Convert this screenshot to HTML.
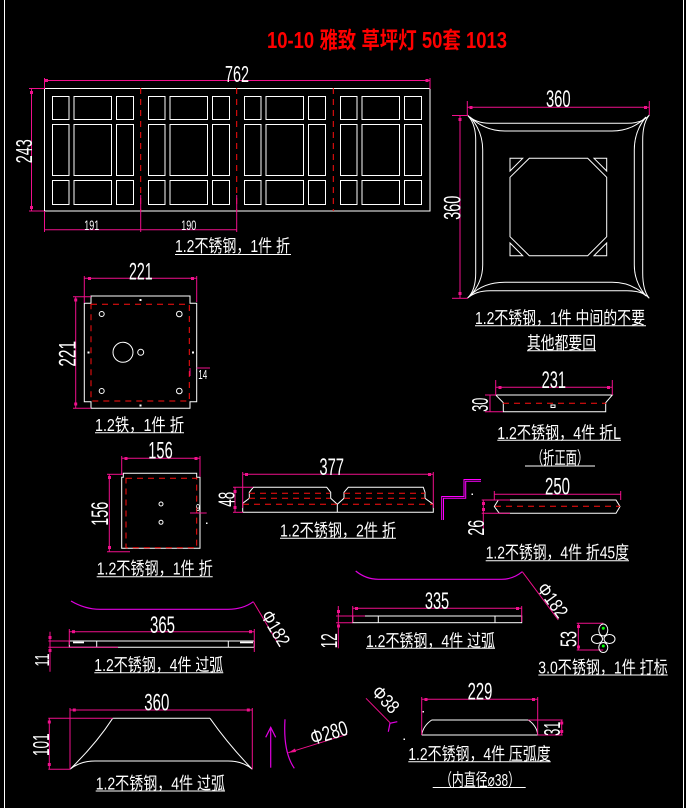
<!DOCTYPE html>
<html><head><meta charset="utf-8"><style>
html,body{margin:0;padding:0;background:#000;width:686px;height:808px;overflow:hidden}
svg{display:block}
.w{stroke:#fff;fill:none;stroke-width:1}
.m{stroke:#f0108c;fill:none;stroke-width:1}
.p{stroke:#e000e0;fill:none;stroke-width:1.2}
.r{stroke:#ff1010;fill:none;stroke-width:1;stroke-dasharray:6 5}
.t{fill:#f0108c}
.d{font-family:"Liberation Sans",sans-serif;fill:#fff;font-size:23px}
.c{font-family:"Liberation Sans","Noto Sans CJK SC",sans-serif;fill:#fff;font-size:17.5px}
</style></head><body>
<svg width="686" height="808" viewBox="0 0 686 808" xmlns="http://www.w3.org/2000/svg">
<rect width="686" height="808" fill="#000"/>
<line class="w" x1="4.5" y1="0" x2="4.5" y2="808"/>
<line class="w" x1="683.5" y1="0" x2="683.5" y2="808"/>

<!-- Title -->
<text x="267" y="48" font-family="Liberation Sans,'Noto Sans CJK SC',sans-serif" font-size="23" font-weight="bold" fill="#ff0000" textLength="240" lengthAdjust="spacingAndGlyphs">10-10 雅致 草坪灯 50套 1013</text>

<!-- ===== Panel 1 ===== -->
<defs>
<g id="sec" class="w">
<rect x="52.5" y="96.5" width="16.5" height="23"/>
<rect x="74" y="96.5" width="37.5" height="23"/>
<rect x="116.5" y="96.5" width="17" height="23"/>
<rect x="52.5" y="124.5" width="16.5" height="51"/>
<rect x="74" y="124.5" width="37.5" height="51"/>
<rect x="116.5" y="124.5" width="17" height="51"/>
<rect x="52.5" y="180.5" width="16.5" height="24"/>
<rect x="74" y="180.5" width="37.5" height="24"/>
<rect x="116.5" y="180.5" width="17" height="24"/>
</g>
</defs>
<rect class="w" x="44.5" y="88.5" width="385.5" height="122.5"/>
<use href="#sec"/>
<use href="#sec" transform="translate(96,0)"/>
<use href="#sec" transform="translate(192,0)"/>
<use href="#sec" transform="translate(288,0)"/>
<line class="r" x1="140.7" y1="88" x2="140.7" y2="211"/>
<line class="r" x1="236.7" y1="88" x2="236.7" y2="211"/>
<line class="r" x1="333.3" y1="88" x2="333.3" y2="211"/>
<!-- dims -->
<line class="m" x1="44" y1="80.5" x2="430" y2="80.5"/>
<line class="m" x1="44.5" y1="78" x2="44.5" y2="89"/>
<line class="m" x1="430" y1="78" x2="430" y2="89"/>
<rect class="t" x="45" y="79" width="3" height="3"/><rect class="t" x="425.5" y="79" width="3" height="3"/>
<text class="d" x="237" y="82" text-anchor="middle" textLength="24" lengthAdjust="spacingAndGlyphs">762</text>
<line class="m" x1="31.5" y1="88.3" x2="31.5" y2="211"/>
<line class="m" x1="29" y1="88.5" x2="44" y2="88.5"/>
<line class="m" x1="29" y1="211" x2="44" y2="211"/>
<rect class="t" x="30" y="91" width="3" height="3"/><rect class="t" x="30" y="206" width="3" height="3"/>
<text class="d" transform="translate(32,151.3) rotate(-90)" x="0" y="0" text-anchor="middle" textLength="24" lengthAdjust="spacingAndGlyphs">243</text>
<line class="m" x1="44" y1="229.7" x2="236.7" y2="229.7"/>
<line class="m" x1="44.5" y1="211" x2="44.5" y2="232"/>
<line class="m" x1="140.7" y1="195" x2="140.7" y2="232"/>
<line class="m" x1="236.7" y1="195" x2="236.7" y2="232"/>
<text class="d" style="font-size:14px" x="91.7" y="230" text-anchor="middle" textLength="15" lengthAdjust="spacingAndGlyphs">191</text>
<text class="d" style="font-size:14px" x="188.8" y="230" text-anchor="middle" textLength="15" lengthAdjust="spacingAndGlyphs">190</text>
<text class="c" x="175" y="252" textLength="115" lengthAdjust="spacingAndGlyphs">1.2不锈钢，1件 折</text>
<line class="w" x1="175" y1="254.5" x2="291" y2="254.5"/>

<!-- ===== Panel 2 ===== -->
<path class="w" d="M467.3,115 Q475.7,123.3 490,123.3 L627,123.3 Q642.7,123.3 649.3,115 Q642.7,123 642.7,140 L642.7,273 Q642.7,290.7 649.3,298.3 Q642.7,290.7 627,290.7 L490,290.7 Q475.7,290.7 467.3,298.3 Q475.7,290.7 475.7,273 L475.7,140 Q475.7,123.3 467.3,115 Z"/>
<path class="w" d="M470,117 Q485,131 505,131 L612,131 Q632,131 646,117 Q634.3,131 634.3,150 L634.3,265 Q634.3,282.3 646,296 Q632,282.3 612,282.3 L505,282.3 Q482.7,282.3 470,296 Q482.7,282.3 482.7,265 L482.7,150 Q482.7,131 470,117 Z"/>
<path class="w" d="M529.3,158.3 L587.7,158.3 L606.7,177.3 L606.7,236.7 L587.7,255.7 L529.3,255.7 L510,236.7 L510,177.3 Z"/>
<path class="w" d="M510,158.3 L522.7,158.3 L510,171 Z M606.7,158.3 L594,158.3 L606.7,171 Z M510,255.7 L522.7,255.7 L510,243 Z M606.7,255.7 L594,255.7 L606.7,243 Z"/>
<line class="m" x1="467.3" y1="107.3" x2="649.3" y2="107.3"/>
<line class="m" x1="467.3" y1="101" x2="467.3" y2="115"/>
<line class="m" x1="649.3" y1="101" x2="649.3" y2="115"/>
<rect class="t" x="469.5" y="106" width="3" height="3"/><rect class="t" x="644" y="106" width="3" height="3"/>
<text class="d" style="font-size:24px" x="558.3" y="107" text-anchor="middle" textLength="24.7" lengthAdjust="spacingAndGlyphs">360</text>
<line class="m" x1="460" y1="115.7" x2="460" y2="298.3"/>
<line class="m" x1="452" y1="115.5" x2="468" y2="115.5"/>
<line class="m" x1="452" y1="298.3" x2="468" y2="298.3"/>
<rect class="t" x="458.5" y="118" width="3" height="3"/><rect class="t" x="458.5" y="292" width="3" height="3"/>
<text class="d" style="font-size:24px" transform="translate(460.5,207.8) rotate(-90)" text-anchor="middle" textLength="24" lengthAdjust="spacingAndGlyphs">360</text>
<text class="c" x="475" y="324" textLength="170" lengthAdjust="spacingAndGlyphs">1.2不锈钢，1件 中间的不要</text>
<line class="w" x1="475" y1="325.7" x2="646" y2="325.7"/>
<text class="c" x="527" y="349" textLength="69" lengthAdjust="spacingAndGlyphs">其他都要回</text>
<line class="w" x1="527" y1="350.7" x2="596" y2="350.7"/>

<!-- ===== Panel 3 (221 plate) ===== -->
<path class="w" d="M91,296 L190,296 L190,303.3 L196.7,303.3 L196.7,401.7 L190,401.7 L190,408.3 L91,408.3 L91,401.7 L84.3,401.7 L84.3,303.3 L91,303.3 Z"/>
<rect class="r" x="91" y="304.3" width="98.3" height="96.7"/>
<circle class="w" cx="101.7" cy="314" r="2.5"/><circle class="w" cx="179.3" cy="314" r="2.8"/>
<circle class="w" cx="101.7" cy="391" r="2.5"/><circle class="w" cx="179.3" cy="391" r="2.8"/>
<circle class="w" cx="123" cy="352.3" r="10"/>
<circle class="w" cx="140.7" cy="352.3" r="3"/>
<rect x="139.5" y="299" width="2" height="2" fill="#fff"/>
<rect x="139.5" y="404.5" width="2" height="2" fill="#fff"/>
<rect x="87.5" y="351.5" width="2" height="2" fill="#fff"/>
<rect x="192" y="351.5" width="2" height="2" fill="#fff"/>
<line class="m" x1="84.3" y1="278.3" x2="196.7" y2="278.3"/>
<line class="m" x1="84.3" y1="276" x2="84.3" y2="303"/>
<line class="m" x1="196.7" y1="276" x2="196.7" y2="302"/>
<rect class="t" x="88" y="277" width="3" height="3"/><rect class="t" x="191" y="277" width="3" height="3"/>
<text class="d" style="font-size:24px" x="140.8" y="279.5" text-anchor="middle" textLength="23.7" lengthAdjust="spacingAndGlyphs">221</text>
<line class="m" x1="75.7" y1="296.7" x2="75.7" y2="408.3"/>
<line class="m" x1="73" y1="296.7" x2="91" y2="296.7"/>
<line class="m" x1="73" y1="408.3" x2="91" y2="408.3"/>
<rect class="t" x="74.2" y="298.5" width="3" height="3"/><rect class="t" x="74.2" y="402.5" width="3" height="3"/>
<text class="d" style="font-size:24px" transform="translate(75.5,353.8) rotate(-90)" text-anchor="middle" textLength="25.7" lengthAdjust="spacingAndGlyphs">221</text>
<line class="m" x1="196.7" y1="368" x2="210" y2="368"/>
<line class="m" x1="190" y1="368" x2="190" y2="376"/>
<text class="d" style="font-size:13px" x="198.3" y="379" textLength="9" lengthAdjust="spacingAndGlyphs">14</text>
<text class="c" x="95" y="431" textLength="89" lengthAdjust="spacingAndGlyphs">1.2铁，1件 折</text>
<line class="w" x1="95" y1="432.7" x2="184" y2="432.7"/>

<!-- ===== Panel 4 (231) ===== -->
<path class="w" d="M495.7,395 L612.3,395 L605.7,402.7 L605.7,411.7 L503.3,411.7 L503.3,402.7 Z"/>
<line class="r" x1="503" y1="403.3" x2="606" y2="403.3"/>
<rect class="w" x="551" y="405" width="4" height="2.5"/>
<line class="m" x1="495.7" y1="387.3" x2="612.3" y2="387.3"/>
<line class="m" x1="495.7" y1="380" x2="495.7" y2="395"/>
<line class="m" x1="612.3" y1="380" x2="612.3" y2="395"/>
<rect class="t" x="498.5" y="386" width="3" height="3"/><rect class="t" x="607" y="386" width="3" height="3"/>
<text class="d" style="font-size:24px" x="553.8" y="388" text-anchor="middle" textLength="24.3" lengthAdjust="spacingAndGlyphs">231</text>
<line class="m" x1="490" y1="395" x2="490" y2="411.7"/>
<line class="m" x1="485" y1="395" x2="496" y2="395"/>
<line class="m" x1="485" y1="411.7" x2="503" y2="411.7"/>
<text class="d" transform="translate(488,404.7) rotate(-90)" text-anchor="middle" textLength="14" lengthAdjust="spacingAndGlyphs">30</text>
<text class="c" x="497.3" y="439" textLength="123.7" lengthAdjust="spacingAndGlyphs">1.2不锈钢，4件 折L</text>
<line class="w" x1="497.3" y1="440.3" x2="621" y2="440.3"/>
<text class="c" x="531.7" y="464" textLength="56.6" lengthAdjust="spacingAndGlyphs">（折正面）</text>
<line class="w" x1="525" y1="466" x2="595" y2="466"/>

<!-- ===== Panel 5 (156) ===== -->
<path class="w" d="M121.7,477.3 L123.3,477.3 L123.3,473.3 L196.7,473.3 L196.7,477.3 L200,477.3 L200,548.3 L121.7,548.3 Z"/>
<rect class="r" x="126" y="478.3" width="70.7" height="69.4"/>
<circle class="w" cx="161" cy="504" r="2"/><circle class="w" cx="161" cy="522.3" r="2"/>
<line class="m" x1="121.7" y1="458.3" x2="200" y2="458.3"/>
<line class="m" x1="121.7" y1="456" x2="121.7" y2="475"/>
<line class="m" x1="200" y1="456" x2="200" y2="476.7"/>
<rect class="t" x="124.5" y="457" width="3" height="3"/><rect class="t" x="194.5" y="457" width="3" height="3"/>
<text class="d" style="font-size:24px" x="160.5" y="458.5" text-anchor="middle" textLength="24.4" lengthAdjust="spacingAndGlyphs">156</text>
<line class="m" x1="109.3" y1="474.3" x2="109.3" y2="551.7"/>
<line class="m" x1="107" y1="474.3" x2="123" y2="474.3"/>
<line class="m" x1="107" y1="551.7" x2="130" y2="551.7"/>
<rect class="t" x="108" y="476" width="3" height="3"/><rect class="t" x="108" y="546" width="3" height="3"/>
<text class="d" style="font-size:24px" transform="translate(108,513.7) rotate(-90)" text-anchor="middle" textLength="24" lengthAdjust="spacingAndGlyphs">156</text>
<line class="m" x1="190" y1="513" x2="206.7" y2="513"/>
<text class="d" style="font-size:10px" x="196" y="511" textLength="4" lengthAdjust="spacingAndGlyphs">9</text>
<rect x="206" y="522.5" width="1.5" height="1.5" fill="#fff"/>
<text class="c" x="96.7" y="574.5" textLength="116" lengthAdjust="spacingAndGlyphs">1.2不锈钢，1件 折</text>
<line class="w" x1="96.7" y1="576.7" x2="212.7" y2="576.7"/>

<!-- ===== Panel 6 (377) ===== -->
<path class="w" d="M242.7,512.3 L242.7,503.3 L249.3,498.3 L249.3,492.3 L253.3,487.3 L326.7,487.3 L330.7,492.3 L330.7,498.3 L337.3,504.3 L344,498.3 L344,492.3 L348.3,487.3 L423.3,487.3 L425,492.3 L425,498.3 L433.3,504.3 L433.3,512.3 Z M337.3,504.3 L337.3,512.3"/>
<line class="r" x1="249" y1="493.3" x2="330" y2="493.3"/>
<line class="r" x1="344" y1="493.3" x2="425" y2="493.3"/>
<line class="r" x1="249" y1="498.3" x2="330" y2="498.3"/>
<line class="r" x1="344" y1="498.3" x2="425" y2="498.3"/>
<line class="r" x1="243" y1="504.3" x2="433" y2="504.3"/>
<line class="m" x1="242.7" y1="474.3" x2="433.3" y2="474.3"/>
<line class="m" x1="242.7" y1="472" x2="242.7" y2="508"/>
<line class="m" x1="433.3" y1="472" x2="433.3" y2="508"/>
<rect class="t" x="245" y="473" width="3" height="3"/><rect class="t" x="428" y="473" width="3" height="3"/>
<text class="d" style="font-size:24px" x="331.7" y="475" text-anchor="middle" textLength="24.7" lengthAdjust="spacingAndGlyphs">377</text>
<line class="m" x1="235" y1="487.3" x2="235" y2="512.3"/>
<line class="m" x1="233" y1="487.3" x2="253" y2="487.3"/>
<line class="m" x1="233" y1="512.3" x2="243" y2="512.3"/>
<rect class="t" x="233.5" y="490" width="3" height="3"/><rect class="t" x="233.5" y="506" width="3" height="3"/>
<text class="d" transform="translate(234.5,499.2) rotate(-90)" text-anchor="middle" textLength="15" lengthAdjust="spacingAndGlyphs">48</text>
<text class="c" x="280" y="536.5" textLength="116" lengthAdjust="spacingAndGlyphs">1.2不锈钢，2件 折</text>
<line class="w" x1="280" y1="538.3" x2="396" y2="538.3"/>

<!-- ===== Panel 7 (250) ===== -->
<polyline class="m" style="stroke:#ff00ff" points="441.7,520 441.7,496.5 464,496.5 464,479.5 481,479.5"/>
<polyline class="m" style="stroke:#ff00ff" points="443.5,520 443.5,498.3 465.7,498.3 465.7,481.3 481,481.3"/>
<rect x="471.5" y="493.5" width="1.5" height="1.5" fill="#fff"/>
<path class="w" d="M498.3,500 L616,500 L620,506.5 L616,513.3 L499.3,513.3 L494.3,506.5 Z"/>
<line class="r" x1="495" y1="506.3" x2="620" y2="506.3"/>
<line class="m" x1="494.3" y1="494.3" x2="620.7" y2="494.3"/>
<line class="m" x1="494.3" y1="491" x2="494.3" y2="500"/>
<line class="m" x1="620.7" y1="491" x2="620.7" y2="500"/>
<text class="d" style="font-size:24px" x="557.5" y="494.5" text-anchor="middle" textLength="25" lengthAdjust="spacingAndGlyphs">250</text>
<line class="m" x1="481.7" y1="500" x2="510" y2="500"/>
<line class="m" x1="481.7" y1="513.3" x2="510" y2="513.3"/>
<line class="m" x1="483.3" y1="500" x2="483.3" y2="535"/>
<rect class="t" x="482" y="502" width="3" height="3"/><rect class="t" x="482" y="508" width="3" height="3"/>
<text class="d" transform="translate(484,527.8) rotate(-90)" text-anchor="middle" textLength="15.7" lengthAdjust="spacingAndGlyphs">26</text>
<text class="c" x="485.7" y="558.5" textLength="143.3" lengthAdjust="spacingAndGlyphs">1.2不锈钢，4件 折45度</text>
<line class="w" x1="485.7" y1="560.7" x2="629" y2="560.7"/>

<!-- ===== Panel 8 (365) ===== -->
<path class="p" d="M71,601 Q85,609.3 100,609.3 L228,609.3 Q243,609.3 253.3,601.7"/>
<line class="m" x1="253.3" y1="601.7" x2="280" y2="646.7"/>
<text class="d" style="font-size:19px" transform="translate(276,628) rotate(59)" x="0" y="7" text-anchor="middle" textLength="38" lengthAdjust="spacingAndGlyphs">Φ182</text>
<line class="w" x1="69.3" y1="641" x2="254.3" y2="641"/>
<line class="w" x1="69.3" y1="647.3" x2="254.3" y2="647.3"/>
<line class="w" x1="69.3" y1="641" x2="69.3" y2="647.3"/>
<line class="w" x1="254.3" y1="641" x2="254.3" y2="647.3"/>
<line class="w" x1="96.7" y1="641" x2="96.7" y2="647.3"/>
<line class="w" x1="228.3" y1="641" x2="228.3" y2="647.3"/>
<line class="w" style="stroke-width:1.6" x1="73" y1="642.5" x2="84" y2="642.5"/>
<line class="w" style="stroke-width:1.6" x1="240" y1="642.5" x2="253" y2="642.5"/>
<line class="m" x1="69.3" y1="631.7" x2="254.3" y2="631.7"/>
<line class="m" x1="69.3" y1="629" x2="69.3" y2="645"/>
<line class="m" x1="254.3" y1="629" x2="254.3" y2="652"/>
<rect class="t" x="72" y="630.2" width="3" height="3"/><rect class="t" x="249" y="630.2" width="3" height="3"/>
<text class="d" style="font-size:24px" x="162.5" y="633" text-anchor="middle" textLength="25" lengthAdjust="spacingAndGlyphs">365</text>
<line class="m" x1="48.3" y1="641" x2="69.3" y2="641"/>
<line class="m" x1="48.3" y1="647.3" x2="118" y2="647.3"/>
<line class="m" x1="50" y1="631.7" x2="50" y2="671.7"/>
<rect class="t" x="48.5" y="636" width="3" height="3"/><rect class="t" x="48.5" y="649" width="3" height="3"/>
<text class="d" style="font-size:20px" transform="translate(49,660) rotate(-90)" text-anchor="middle" textLength="13" lengthAdjust="spacingAndGlyphs">11</text>
<text class="c" x="94.3" y="671" textLength="129" lengthAdjust="spacingAndGlyphs">1.2不锈钢，4件 过弧</text>
<line class="w" x1="94.3" y1="672.7" x2="223.3" y2="672.7"/>

<!-- ===== Panel 9 (335) ===== -->
<path class="p" d="M355.7,571 Q366,579.3 378.3,579.3 L501.7,579.3 Q513,579.3 522.3,571.7"/>
<line class="m" x1="522.3" y1="571.7" x2="558.3" y2="620"/>
<text class="d" style="font-size:19px" transform="translate(553,600) rotate(54)" x="0" y="7" text-anchor="middle" textLength="38" lengthAdjust="spacingAndGlyphs">Φ182</text>
<rect class="w" x="352.7" y="616" width="169" height="6.7"/>
<line class="w" x1="378.3" y1="616" x2="378.3" y2="622.7"/>
<line class="w" x1="495" y1="616" x2="495" y2="622.7"/>
<line class="m" x1="352.7" y1="608.3" x2="521.7" y2="608.3"/>
<line class="m" x1="352.7" y1="606" x2="352.7" y2="622"/>
<line class="m" x1="521.7" y1="606" x2="521.7" y2="622"/>
<line class="m" x1="352.7" y1="616" x2="365" y2="616"/>
<rect class="t" x="355" y="607" width="3" height="3"/><rect class="t" x="516" y="607" width="3" height="3"/>
<text class="d" style="font-size:24px" x="437" y="609" text-anchor="middle" textLength="24.3" lengthAdjust="spacingAndGlyphs">335</text>
<line class="m" x1="336" y1="616" x2="352.7" y2="616"/>
<line class="m" x1="336" y1="622.7" x2="352.7" y2="622.7"/>
<line class="m" x1="338.3" y1="606" x2="338.3" y2="648.3"/>
<rect class="t" x="337" y="610" width="3" height="3"/><rect class="t" x="337" y="624.5" width="3" height="3"/>
<text class="d" transform="translate(337,640.8) rotate(-90)" text-anchor="middle" textLength="15" lengthAdjust="spacingAndGlyphs">12</text>
<text class="c" x="366" y="647" textLength="129" lengthAdjust="spacingAndGlyphs">1.2不锈钢，4件 过弧</text>
<line class="w" x1="366" y1="648.3" x2="495" y2="648.3"/>

<!-- ===== Panel 10 (flower) ===== -->
<line class="m" x1="576.7" y1="623.3" x2="603.3" y2="623.3"/>
<line class="m" x1="576.7" y1="650" x2="603.3" y2="650"/>
<line class="m" x1="578.3" y1="623.3" x2="578.3" y2="650"/>
<rect class="t" x="577" y="625" width="3" height="3"/><rect class="t" x="577" y="645.5" width="3" height="3"/>
<text class="d" transform="translate(576.5,639) rotate(-90)" text-anchor="middle" textLength="16" lengthAdjust="spacingAndGlyphs">53</text>
<g class="w">
<ellipse cx="603.3" cy="630" rx="4.5" ry="6"/>
<ellipse cx="603.3" cy="647.5" rx="4.5" ry="5"/>
<ellipse cx="597" cy="639" rx="5.5" ry="4.5"/>
<ellipse cx="609.5" cy="639" rx="5.5" ry="4.5"/>
</g>
<circle cx="603.3" cy="628.3" r="1.5" fill="#00ff00"/>
<circle cx="603.3" cy="646" r="1.5" fill="#00ff00"/>
<text class="c" x="538.3" y="673.5" textLength="129.4" lengthAdjust="spacingAndGlyphs">3.0不锈钢，1件 打标</text>
<line class="w" x1="538.3" y1="675" x2="667.7" y2="675"/>

<!-- ===== Panel 11 (360 trapezoid) ===== -->
<path class="w" d="M112.7,718.3 L210,718.3 M112.7,718.3 Q96,744 70,769.3 M210,718.3 Q228,744 252.3,769.3 M70,769.3 Q80,761 95,761 L228,761 Q243,761 252.3,769.3"/>
<line class="m" x1="70" y1="710" x2="252.3" y2="710"/>
<line class="m" x1="70" y1="708" x2="70" y2="769.3"/>
<line class="m" x1="252.3" y1="708" x2="252.3" y2="769.3"/>
<rect class="t" x="72.8" y="708.5" width="3" height="3"/><rect class="t" x="246.8" y="708.5" width="3" height="3"/>
<text class="d" style="font-size:24px" x="156.8" y="710.5" text-anchor="middle" textLength="25" lengthAdjust="spacingAndGlyphs">360</text>
<line class="m" x1="48.3" y1="718.3" x2="112.7" y2="718.3"/>
<line class="m" x1="48.3" y1="769.3" x2="70" y2="769.3"/>
<line class="m" x1="49.3" y1="718.3" x2="49.3" y2="769.3"/>
<rect class="t" x="47.8" y="720.5" width="3" height="3"/><rect class="t" x="47.8" y="763" width="3" height="3"/>
<text class="d" transform="translate(49,744.7) rotate(-90)" text-anchor="middle" textLength="22.7" lengthAdjust="spacingAndGlyphs">101</text>
<text class="c" x="95.7" y="789.5" textLength="129.3" lengthAdjust="spacingAndGlyphs">1.2不锈钢，4件 过弧</text>
<line class="w" x1="95.7" y1="791" x2="225" y2="791"/>

<!-- arrow + Φ280 -->
<line class="p" x1="270.7" y1="767.7" x2="270.7" y2="727.3"/>
<polyline class="p" points="265.7,737.3 270.7,727.3 275.7,737.3"/>
<path class="p" d="M285,719.3 Q283,752 294.3,768.3"/>
<line class="m" x1="288.3" y1="752.7" x2="347.3" y2="734.3"/>
<polygon class="t" points="288.3,752.7 295,748.5 296,752"/>
<text class="d" style="font-size:21px" transform="translate(329,733) rotate(-17)" x="0" y="7" text-anchor="middle" textLength="38" lengthAdjust="spacingAndGlyphs">Φ280</text>

<!-- ===== Panel 12 (229) ===== -->
<line class="m" x1="366" y1="698.3" x2="390" y2="722.7"/>
<polyline class="p" points="397.3,721.7 390,723.3 388.3,731.7"/>
<text class="d" style="font-size:19px" transform="translate(381,704) rotate(46)" x="0" y="0" text-anchor="middle" textLength="30" lengthAdjust="spacingAndGlyphs">Φ38</text>
<path class="w" d="M421.7,735 L537.7,735 M431.7,720 L528.3,720 M431.7,720 Q423,726 421.7,735 M528.3,720 Q537,726 537.7,735"/>
<rect x="422.5" y="711" width="1.5" height="1.5" fill="#fff"/>
<rect x="403.5" y="738.5" width="1.5" height="1.5" fill="#fff"/>
<line class="m" x1="421.7" y1="699.3" x2="537.7" y2="699.3"/>
<line class="m" x1="421.7" y1="697" x2="421.7" y2="735"/>
<line class="m" x1="537.7" y1="697" x2="537.7" y2="735"/>
<rect class="t" x="424.5" y="698" width="3" height="3"/><rect class="t" x="532" y="698" width="3" height="3"/>
<text class="d" style="font-size:24px" x="480" y="699.5" text-anchor="middle" textLength="24.7" lengthAdjust="spacingAndGlyphs">229</text>
<line class="m" x1="528.3" y1="720" x2="562.7" y2="720"/>
<line class="m" x1="537.7" y1="735" x2="562.7" y2="735"/>
<line class="m" x1="561.7" y1="720" x2="561.7" y2="735"/>
<rect class="t" x="560.2" y="721.5" width="3" height="3"/><rect class="t" x="560.2" y="730" width="3" height="3"/>
<text class="d" transform="translate(560,728.7) rotate(-90)" text-anchor="middle" textLength="14" lengthAdjust="spacingAndGlyphs">31</text>
<text class="c" x="408.3" y="760" textLength="142.4" lengthAdjust="spacingAndGlyphs">1.2不锈钢，4件 压弧度</text>
<line class="w" x1="408.3" y1="761.7" x2="550.7" y2="761.7"/>
<text class="c" x="440" y="786" textLength="80" lengthAdjust="spacingAndGlyphs">（内直径⌀38）</text>
<line class="w" x1="432.7" y1="787.5" x2="525.7" y2="787.5"/>
</svg>
</body></html>
